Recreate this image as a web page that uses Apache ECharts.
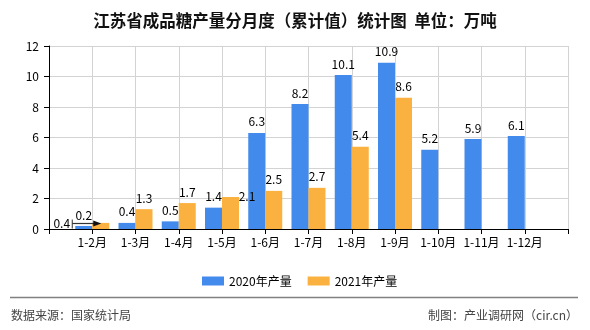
<!DOCTYPE html>
<html>
<head>
<meta charset="utf-8">
<script src="https://cdn.jsdelivr.net/npm/echarts@6/dist/echarts.min.js"></script>
<style>html,body{margin:0;padding:0;background:#fff;}#c{width:590px;height:330px;}</style>
</head>
<body>
<div id="c"></div>
<script>
var categories = ['1-2月','1-3月','1-4月','1-5月','1-6月','1-7月','1-8月','1-9月','1-10月','1-11月','1-12月'];
var values2020 = [0.2, 0.4, 0.5, 1.4, 6.3, 8.2, 10.1, 10.9, 5.2, 5.9, 6.1];
var values2021 = [0.4, 1.3, 1.7, 2.1, 2.5, 2.7, 5.4, 8.6, null, null, null];
var yTicks = [0, 2, 4, 6, 8, 10, 12];
var seriesNames = ['2020年产量', '2021年产量'];

var FONT = '"Noto Sans CJK SC", "Noto Sans", sans-serif';
var axisCats = [''].concat(categories).concat(['']);
function pad(arr) { return [null].concat(arr).concat([null]); }

var d2021 = pad(values2021).map(function (v, i) {
  if (i === 1) return { value: v, label: { offset: [-39, 11.5] } };
  if (i === 4) return { value: v, label: { offset: [16.5, 10.7] } };
  return v;
});

var chart = echarts.init(document.getElementById('c'), null, { renderer: 'canvas' });
var option = {
  backgroundColor: '#fff',
  animation: false,
  textStyle: { fontFamily: FONT },
  title: {
    text: '江苏省成品糖产量分月度（累计值）统计图  单位：万吨',
    left: 'center',
    top: 7,
    textStyle: { fontSize: 16.5, fontWeight: 'bold', color: '#111', fontFamily: FONT }
  },
  legend: {
    data: seriesNames,
    left: 197,
    top: 270,
    itemWidth: 22,
    itemHeight: 9,
    itemGap: 16,
    icon: 'rect',
    textStyle: { fontSize: 12, color: '#000', fontFamily: FONT }
  },
  grid: { left: 49, right: 22, top: 46, bottom: 101, containLabel: false },
  xAxis: {
    type: 'category',
    data: axisCats,
    boundaryGap: false,
    axisLine: { lineStyle: { color: '#000', width: 1 } },
    axisTick: { show: true, length: 5, interval: 0, lineStyle: { color: '#000' } },
    axisLabel: { interval: 0, margin: 7, fontSize: 12, color: '#000', fontFamily: FONT },
    splitLine: { show: true, interval: 0, lineStyle: { color: '#d3d3d3', width: 1 } }
  },
  yAxis: {
    type: 'value',
    min: yTicks[0],
    max: yTicks[yTicks.length - 1],
    interval: yTicks[1] - yTicks[0],
    axisLine: { show: true, lineStyle: { color: '#000', width: 1 } },
    axisTick: { show: true, length: 5, lineStyle: { color: '#000' } },
    axisLabel: { margin: 10, fontSize: 12, color: '#000', fontFamily: FONT },
    splitLine: { show: true, lineStyle: { color: '#d3d3d3', width: 1 } }
  },
  series: [
    {
      name: seriesNames[0],
      type: 'bar',
      data: pad(values2020),
      barWidth: 17,
      barGap: '0%',
      itemStyle: { color: '#428bec' },
      label: { show: true, position: 'top', distance: 5, fontSize: 12, color: '#000', fontFamily: FONT }
    },
    {
      name: seriesNames[1],
      type: 'bar',
      data: d2021,
      barWidth: 17,
      barGap: '0%',
      itemStyle: { color: '#fbb13f' },
      label: { show: true, position: 'top', distance: 5, fontSize: 12, color: '#000', fontFamily: FONT }
    }
  ]
};
chart.setOption(option);

var p = chart.convertToPixel({ xAxisIndex: 0, yAxisIndex: 0 }, [1, values2021[0]]);
var ay = Math.round(p[1]) + 0.5;
chart.setOption({
  graphic: [
    { type: 'line', shape: { x1: p[0] - 20, y1: ay, x2: p[0] + 4, y2: ay }, style: { stroke: '#333', lineWidth: 1.2 }, z: 100 },
    { type: 'line', shape: { x1: p[0] - 20, y1: ay - 4, x2: p[0] - 20, y2: ay + 5 }, style: { stroke: '#333', lineWidth: 1 }, z: 100 },
    { type: 'polygon', shape: { points: [[p[0] + 1, ay - 3], [p[0] + 9, ay], [p[0] + 1, ay + 3]] }, style: { fill: '#111' }, z: 100 },
    { type: 'line', shape: { x1: 10, y1: 297.5, x2: 578, y2: 297.5 }, style: { stroke: '#808080', lineWidth: 1.5 } },
    { type: 'text', left: 11, top: 309, style: { text: '数据来源：国家统计局', fontSize: 12, fill: '#444', fontFamily: FONT } },
    { type: 'text', right: 12, top: 309, style: { text: '制图：产业调研网（cir.cn）', fontSize: 12, fill: '#444', fontFamily: FONT } }
  ]
});
</script>
</body>
</html>
